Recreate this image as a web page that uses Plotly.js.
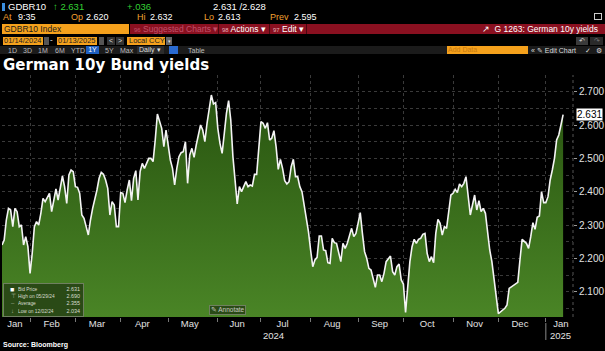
<!DOCTYPE html>
<html><head><meta charset="utf-8">
<script src="https://cdn.plot.ly/plotly-3.0.1.min.js"></script>
<style>
html,body{margin:0;padding:0;background:#000;width:605px;height:351px;overflow:hidden;}
#chart{position:absolute;left:0;top:0;width:605px;height:351px;}
.o{position:absolute;white-space:nowrap;font-family:"Liberation Sans",Arial,sans-serif;z-index:5;line-height:1;}
.box{position:absolute;z-index:5;box-sizing:border-box;white-space:nowrap;font-family:"Liberation Sans",Arial,sans-serif;overflow:hidden;}
</style></head><body>
<div id="chart"></div>

<!-- row 1 -->
<div class="box" style="left:2px;top:3px;width:3px;height:8px;background:#3b8fe0"></div>
<div class="o" style="left:8px;top:2px;font-size:9.5px;color:#fff">GDBR10</div>
<div class="o" style="left:53px;top:2px;font-size:9.5px;color:#34d034">&#8593; 2.631</div>
<div class="o" style="left:127px;top:2px;font-size:9.5px;color:#34d034">+.036</div>
<div class="o" style="left:213px;top:2px;font-size:9.5px;color:#fff">2.631 /2.628</div>
<!-- row 2 -->
<div class="o" style="left:3px;top:13px;font-size:9px;color:#f0a030">At</div>
<div class="o" style="left:18px;top:13px;font-size:9px;color:#fff">9:35</div>
<div class="o" style="left:71px;top:13px;font-size:9px;color:#f0a030">Op</div>
<div class="o" style="left:86px;top:13px;font-size:9px;color:#fff">2.620</div>
<div class="o" style="left:137px;top:13px;font-size:9px;color:#f0a030">Hi</div>
<div class="o" style="left:150px;top:13px;font-size:9px;color:#fff">2.632</div>
<div class="o" style="left:204px;top:13px;font-size:9px;color:#f0a030">Lo</div>
<div class="o" style="left:218px;top:13px;font-size:9px;color:#fff">2.613</div>
<div class="o" style="left:270px;top:13px;font-size:9px;color:#f0a030">Prev</div>
<div class="o" style="left:294px;top:13px;font-size:9px;color:#fff">2.595</div>
<div class="box" style="left:594px;top:13px;width:8px;height:7px;border:1px solid #ccc"></div>
<!-- row 3 -->
<div class="box" style="left:2px;top:24px;width:127px;height:10px;background:#f5a11c;color:#1a1a1a;font-size:8.5px;line-height:10px;padding-left:2px">GDBR10 Index</div>
<div class="box" style="left:130px;top:24px;width:475px;height:10px;background:#8a1020"></div>
<div class="box" style="left:131px;top:24px;width:87px;height:10px;color:#c0506a;font-size:8.5px;line-height:10px;padding-left:3px"><span style="font-size:6px">96</span> Suggested Charts &#9662;</div>
<div class="box" style="left:218px;top:24px;width:1px;height:10px;background:#4a0810"></div>
<div class="box" style="left:220px;top:24px;width:48px;height:10px;color:#fff;font-size:8.5px;line-height:10px;padding-left:2px"><span style="font-size:6px;color:#e8b0b8">98</span> Actions &#9662;</div>
<div class="box" style="left:269px;top:24px;width:1px;height:10px;background:#4a0810"></div>
<div class="box" style="left:271px;top:24px;width:34px;height:10px;color:#fff;font-size:8.5px;line-height:10px;padding-left:2px"><span style="font-size:6px;color:#e8b0b8">97</span> Edit &#9662;</div>
<div class="box" style="left:306px;top:24px;width:1px;height:10px;background:#4a0810"></div>
<div class="o" style="right:7px;top:25px;font-size:8.5px;color:#fff">&#8599;&nbsp; G 1263: German 10y yields</div>
<!-- row 4 -->
<div class="box" style="left:3px;top:37px;width:40px;height:8px;background:#f5a11c;color:#222;font-size:7.5px;line-height:8px;padding-left:1px">01/14/2024</div>
<div class="box" style="left:44px;top:37px;width:5px;height:8px;background:#555"></div>
<div class="o" style="left:50px;top:36px;font-size:8px;color:#fff">-</div>
<div class="box" style="left:57px;top:37px;width:40px;height:8px;background:#f5a11c;color:#222;font-size:7.5px;line-height:8px;padding-left:1px">01/13/2025</div>
<div class="box" style="left:99px;top:37px;width:5px;height:8px;background:#555"></div>
<div class="box" style="left:107px;top:37px;width:8px;height:8px;background:#333;color:#ddd;font-size:7px;line-height:8px;text-align:center">&lt;</div>
<div class="box" style="left:116px;top:37px;width:8px;height:8px;background:#333;color:#ddd;font-size:7px;line-height:8px;text-align:center">&gt;</div>
<div class="box" style="left:127px;top:37px;width:38px;height:8px;background:#f5a11c;color:#222;font-size:7.5px;line-height:8px;padding-left:2px">Local CCY</div>
<div class="box" style="left:166px;top:37px;width:6px;height:8px;background:#666;color:#ddd;font-size:5px;line-height:8px;text-align:center">&#9662;</div>
<div class="box" style="left:576px;top:37px;width:12px;height:8px;background:#3a3a3a;color:#ddd;font-size:7px;line-height:8px;text-align:center">&#8630;</div>
<div class="box" style="left:590px;top:37px;width:13px;height:8px;background:#2a2a2a;color:#777;font-size:7px;line-height:8px;text-align:center">&#8631;</div>
<!-- row 5 -->
<div class="box" style="left:0px;top:46px;width:605px;height:8px;background:#1b1b1b"></div>
<div class="o" style="left:8px;top:47px;font-size:7px;color:#bbb">1D</div>
<div class="o" style="left:23px;top:47px;font-size:7px;color:#bbb">3D</div>
<div class="o" style="left:38px;top:47px;font-size:7px;color:#bbb">1M</div>
<div class="o" style="left:55px;top:47px;font-size:7px;color:#bbb">6M</div>
<div class="o" style="left:71px;top:47px;font-size:7px;color:#bbb">YTD</div>
<div class="box" style="left:86px;top:46px;width:13px;height:8px;background:#1f5fbf;color:#fff;font-size:7px;line-height:8px;text-align:center">1Y</div>
<div class="o" style="left:105px;top:47px;font-size:7px;color:#bbb">5Y</div>
<div class="o" style="left:120px;top:47px;font-size:7px;color:#bbb">Max</div>
<div class="box" style="left:137px;top:46px;width:27px;height:8px;background:#2c2c2c;color:#ddd;font-size:7px;line-height:8px;padding-left:2px">Daily &#9662;</div>
<div class="box" style="left:169px;top:46px;width:9px;height:8px;background:#2a6ad0"></div>
<div class="o" style="left:188px;top:47px;font-size:7px;color:#bbb">Table</div>
<div class="box" style="left:447px;top:46px;width:81px;height:8px;background:#f5a11c;color:#c77a12;font-size:7px;line-height:8px;padding-left:1px">Add Data</div>
<div class="o" style="left:531px;top:47px;font-size:7px;color:#ddd">&#171; &#9998; Edit Chart</div>
<div class="o" style="left:585px;top:47px;font-size:7px;color:#ddd">&#10003;</div>
<div class="o" style="left:596px;top:47px;font-size:7px;color:#ddd">&#9881;</div>
<!-- title -->
<div class="o" style="left:3px;top:58px;font-family:'DejaVu Sans',sans-serif;font-weight:bold;font-size:15px;line-height:15px;color:#fff">German 10y Bund yields</div>
<!-- source -->
<div class="o" style="left:3px;top:341px;font-weight:bold;font-size:7px;color:#fff">Source: Bloomberg</div>
<!-- stats box and annotate -->
<div class="box" id="stats" style="left:3px;top:283px;width:81px;height:34px;background:rgba(40,70,22,0.93);border:1px solid #6f7f60;color:#d8dccf;font-size:6px"></div>
<div class="box" style="left:209px;top:305px;width:37px;height:10px;background:rgba(40,70,22,0.93);border:1px solid #6f7f60;color:#c8ccc0;font-size:6.5px;line-height:8px;text-align:center">&#9998; Annotate</div>

<script>
// ---- data ----
var dates = [
'2024-01-15','2024-01-16','2024-01-17','2024-01-18','2024-01-19','2024-01-22','2024-01-23','2024-01-24','2024-01-25','2024-01-26',
'2024-01-29','2024-01-30','2024-01-31','2024-02-01','2024-02-02','2024-02-05','2024-02-06','2024-02-07','2024-02-08','2024-02-09',
'2024-02-12','2024-02-13','2024-02-14','2024-02-15','2024-02-16','2024-02-19','2024-02-20','2024-02-22','2024-02-23','2024-02-26',
'2024-02-27','2024-02-28','2024-02-29','2024-03-01','2024-03-04','2024-03-05','2024-03-06','2024-03-07','2024-03-08','2024-03-11',
'2024-03-12','2024-03-13','2024-03-15','2024-03-18','2024-03-19','2024-03-20','2024-03-21','2024-03-22','2024-03-25','2024-03-26',
'2024-03-27','2024-03-28','2024-03-29','2024-04-01','2024-04-02','2024-04-03','2024-04-04','2024-04-05','2024-04-08','2024-04-09',
'2024-04-10','2024-04-11','2024-04-12','2024-04-15','2024-04-16','2024-04-18','2024-04-19','2024-04-22','2024-04-23','2024-04-24',
'2024-04-26','2024-04-29','2024-04-30','2024-05-01','2024-05-02','2024-05-03','2024-05-06','2024-05-07','2024-05-08','2024-05-09',
'2024-05-10','2024-05-13','2024-05-14','2024-05-15','2024-05-16','2024-05-17','2024-05-20','2024-05-22','2024-05-23','2024-05-24',
'2024-05-27','2024-05-29','2024-05-30','2024-05-31','2024-06-03','2024-06-04','2024-06-05','2024-06-06','2024-06-07','2024-06-10',
'2024-06-11','2024-06-12','2024-06-13','2024-06-14','2024-06-17','2024-06-18','2024-06-19','2024-06-20','2024-06-21','2024-06-24',
'2024-06-25','2024-06-26','2024-06-27','2024-06-28','2024-07-01','2024-07-02','2024-07-03','2024-07-04','2024-07-05','2024-07-08',
'2024-07-09','2024-07-10','2024-07-11','2024-07-12','2024-07-15','2024-07-16','2024-07-17','2024-07-18','2024-07-19','2024-07-22',
'2024-07-23','2024-07-24','2024-07-25','2024-07-26','2024-07-29','2024-07-30','2024-07-31','2024-08-01','2024-08-02','2024-08-05',
'2024-08-06','2024-08-07','2024-08-08','2024-08-09','2024-08-12','2024-08-13','2024-08-14','2024-08-15','2024-08-16','2024-08-19',
'2024-08-20','2024-08-21','2024-08-22','2024-08-23','2024-08-26','2024-08-28','2024-08-29','2024-08-30','2024-09-02','2024-09-03',
'2024-09-04','2024-09-05','2024-09-06','2024-09-09','2024-09-10','2024-09-11','2024-09-12','2024-09-13','2024-09-16','2024-09-17',
'2024-09-18','2024-09-19','2024-09-20','2024-09-23','2024-09-24','2024-09-25','2024-09-26','2024-09-27','2024-09-30','2024-10-01',
'2024-10-02','2024-10-03','2024-10-04','2024-10-07','2024-10-08','2024-10-09','2024-10-10','2024-10-11','2024-10-14','2024-10-15',
'2024-10-16','2024-10-17','2024-10-18','2024-10-21','2024-10-22','2024-10-23','2024-10-24','2024-10-25','2024-10-28','2024-10-29',
'2024-10-30','2024-10-31','2024-11-01','2024-11-04','2024-11-05','2024-11-06','2024-11-07','2024-11-08','2024-11-11','2024-11-12',
'2024-11-13','2024-11-14','2024-11-15','2024-11-18','2024-11-19','2024-11-20','2024-11-21','2024-11-22','2024-11-25','2024-11-26',
'2024-11-27','2024-11-28','2024-11-29','2024-12-02','2024-12-05','2024-12-06','2024-12-09','2024-12-10','2024-12-11','2024-12-12',
'2024-12-13','2024-12-16','2024-12-17','2024-12-19','2024-12-20','2024-12-23','2024-12-24','2024-12-25','2024-12-26','2024-12-27',
'2024-12-30','2024-12-31','2025-01-01','2025-01-02','2025-01-03','2025-01-06','2025-01-07','2025-01-08','2025-01-09','2025-01-10',
'2025-01-13'];
var yields = [
2.240,2.255,2.315,2.350,2.345,2.295,2.350,2.340,2.295,2.300,
2.240,2.265,2.235,2.155,2.215,2.295,2.310,2.300,2.335,2.380,
2.370,2.385,2.395,2.340,2.380,2.408,2.375,2.447,2.415,2.365,
2.450,2.465,2.460,2.415,2.413,2.395,2.330,2.320,2.295,2.270,
2.315,2.350,2.405,2.440,2.458,2.452,2.435,2.410,2.330,2.370,
2.360,2.295,2.295,2.397,2.395,2.367,2.405,2.435,2.373,2.440,
2.463,2.375,2.460,2.485,2.470,2.500,2.500,2.490,2.555,2.633,
2.590,2.535,2.585,2.545,2.495,2.470,2.420,2.470,2.505,2.517,
2.520,2.550,2.425,2.510,2.530,2.503,2.540,2.600,2.585,2.550,
2.605,2.690,2.663,2.667,2.590,2.545,2.515,2.575,2.635,2.673,
2.615,2.505,2.435,2.363,2.415,2.400,2.415,2.430,2.415,2.420,
2.417,2.452,2.452,2.535,2.610,2.605,2.590,2.607,2.555,2.560,
2.583,2.535,2.467,2.497,2.470,2.433,2.423,2.430,2.475,2.497,
2.445,2.445,2.415,2.400,2.360,2.325,2.280,2.225,2.175,2.195,
2.203,2.267,2.267,2.225,2.223,2.187,2.185,2.260,2.247,2.245,
2.220,2.190,2.245,2.230,2.245,2.290,2.265,2.275,2.305,2.337,
2.275,2.220,2.200,2.170,2.165,2.135,2.113,2.150,2.150,2.130,
2.155,2.190,2.197,2.207,2.160,2.150,2.175,2.183,2.135,2.123,
2.038,2.115,2.190,2.235,2.257,2.245,2.257,2.260,2.272,2.275,
2.215,2.190,2.205,2.187,2.275,2.317,2.305,2.270,2.295,2.290,
2.340,2.390,2.395,2.407,2.397,2.423,2.415,2.425,2.445,2.395,
2.330,2.360,2.390,2.345,2.373,2.340,2.350,2.335,2.275,2.225,
2.190,2.140,2.090,2.034,2.050,2.060,2.110,2.115,2.120,2.123,
2.128,2.195,2.257,2.245,2.230,2.265,2.307,2.287,2.323,2.327,
2.400,2.367,2.367,2.385,2.435,2.465,2.500,2.555,2.570,2.600,
2.631];
var monthMid = ['2024-01-23','2024-02-15','2024-03-15','2024-04-15','2024-05-15','2024-06-14','2024-07-15','2024-08-15','2024-09-16','2024-10-16','2024-11-15','2024-12-16','2025-01-10'];
var monthLabels = ['Jan','Feb','Mar','Apr','May','Jun','Jul','Aug','Sep','Oct','Nov','Dec','Jan'];
var monthStarts = ['2024-02-01','2024-03-01','2024-04-01','2024-05-01','2024-06-03','2024-07-01','2024-08-01','2024-09-02','2024-10-01','2024-11-01','2024-12-02','2025-01-01'];
var yearLabels = ['2024','2025'];
var yearStarts = ['2024-07-01','2025-01-02'];
var statLabels = ['Bid Price','High on 05/29/24','Average','Low on 12/02/24'];
var statValues = ['2.631','2.690','2.355','2.034'];
var statIcons = ['&#9632;','&#8868;','&#8211;','&#8595;'];

// ---- stats box ----
var sb = document.getElementById('stats');
var html = '';
for (var i = 0; i < statLabels.length; i++) {
  html += '<div style="position:absolute;left:0;top:' + (2 + i*7.2) + 'px;width:79px;height:7px;line-height:7px">' +
    '<span style="position:absolute;left:' + (i===0?6:7) + 'px;color:' + (i===0?'#fff':'#aab49c') + ';font-size:' + (i===0?'7px':'6px') + '">' + statIcons[i] + '</span>' +
    '<span style="position:absolute;left:14px;transform:scaleX(0.8);transform-origin:0 50%">' + statLabels[i] + '</span>' +
    '<span style="position:absolute;right:3px;transform:scaleX(0.9);transform-origin:100% 50%">' + statValues[i] + '</span></div>';
}
sb.innerHTML = html;

// ---- chart ----
var axisFont = {family: '"Liberation Sans", Arial, sans-serif', color: '#e2e2e2'};
var trace = {
  x: dates, y: yields, type: 'scatter', mode: 'lines',
  line: {color: '#f4f4f4', width: 1.6},
  fill: 'tozeroy',
  fillgradient: {type: 'vertical', start: 2.02, stop: 2.72,
    colorscale: [[0, '#4a8526'], [1, '#27520f']]},
  hoverinfo: 'skip'
};
var last = yields[yields.length - 1];
var annotations = [{
  xref: 'paper', x: 1, xanchor: 'left', xshift: 3, yref: 'y', y: last,
  text: last.toFixed(3), showarrow: false, bgcolor: '#ffffff',
  font: {family: axisFont.family, size: 10, color: '#000'}, borderpad: 0
}];
for (var k = 0; k < yearLabels.length; k++) {
  annotations.push({xref: 'x', x: yearStarts[k], xanchor: 'left', yref: 'paper', y: -0.045, yanchor: 'top',
    text: yearLabels[k], showarrow: false, font: {family: axisFont.family, size: 9.5, color: '#e2e2e2'}});
}
var layout = {
  width: 605, height: 351,
  margin: {l: 2, r: 32, t: 75, b: 34, pad: 0},
  paper_bgcolor: 'rgba(0,0,0,0)', plot_bgcolor: '#000',
  showlegend: false,
  xaxis: {
    type: 'date', range: ['2024-01-15', '2025-01-17 14:00'],
    rangebreaks: [{bounds: ['sat', 'mon']}],
    tickmode: 'array', tickvals: monthMid, ticktext: monthLabels,
    ticks: '', showgrid: false, zeroline: false, showline: false,
    tickfont: {family: axisFont.family, size: 9.5, color: '#e2e2e2'},
    ticklabelstandoff: -1,
    minor: {tickmode: 'array', tickvals: monthStarts, showgrid: true, gridcolor: '#3a3a3a', griddash: 'dot', gridwidth: 1,
      ticks: 'outside', ticklen: 4, tickcolor: '#777'}
  },
  yaxis: {
    side: 'right', range: [2.024, 2.75], tickmode: 'linear', tick0: 2.1, dtick: 0.1, tickformat: '.3f',
    showgrid: true, gridcolor: '#3a3a3a', griddash: 'dot', gridwidth: 1, zeroline: false,
    ticks: 'outside', ticklen: 3, tickcolor: '#999',
    tickfont: {family: axisFont.family, size: 10, color: '#e2e2e2'},
    minor: {dtick: 0.05, showgrid: true, gridcolor: '#3a3a3a', griddash: 'dot', gridwidth: 1}
  },
  shapes: [
    {type: 'line', xref: 'paper', yref: 'paper', x0: 1, x1: 1, y0: 0, y1: 1, line: {color: '#555', width: 1, dash: 'dot'}},
    {type: 'line', xref: 'x', yref: 'paper', x0: monthStarts[11], x1: monthStarts[11], y0: -0.025, y1: -0.095, line: {color: '#888', width: 1}}
  ],
  annotations: annotations
};
Plotly.newPlot('chart', [trace], layout, {staticPlot: true, displayModeBar: false});
</script>
</body></html>
